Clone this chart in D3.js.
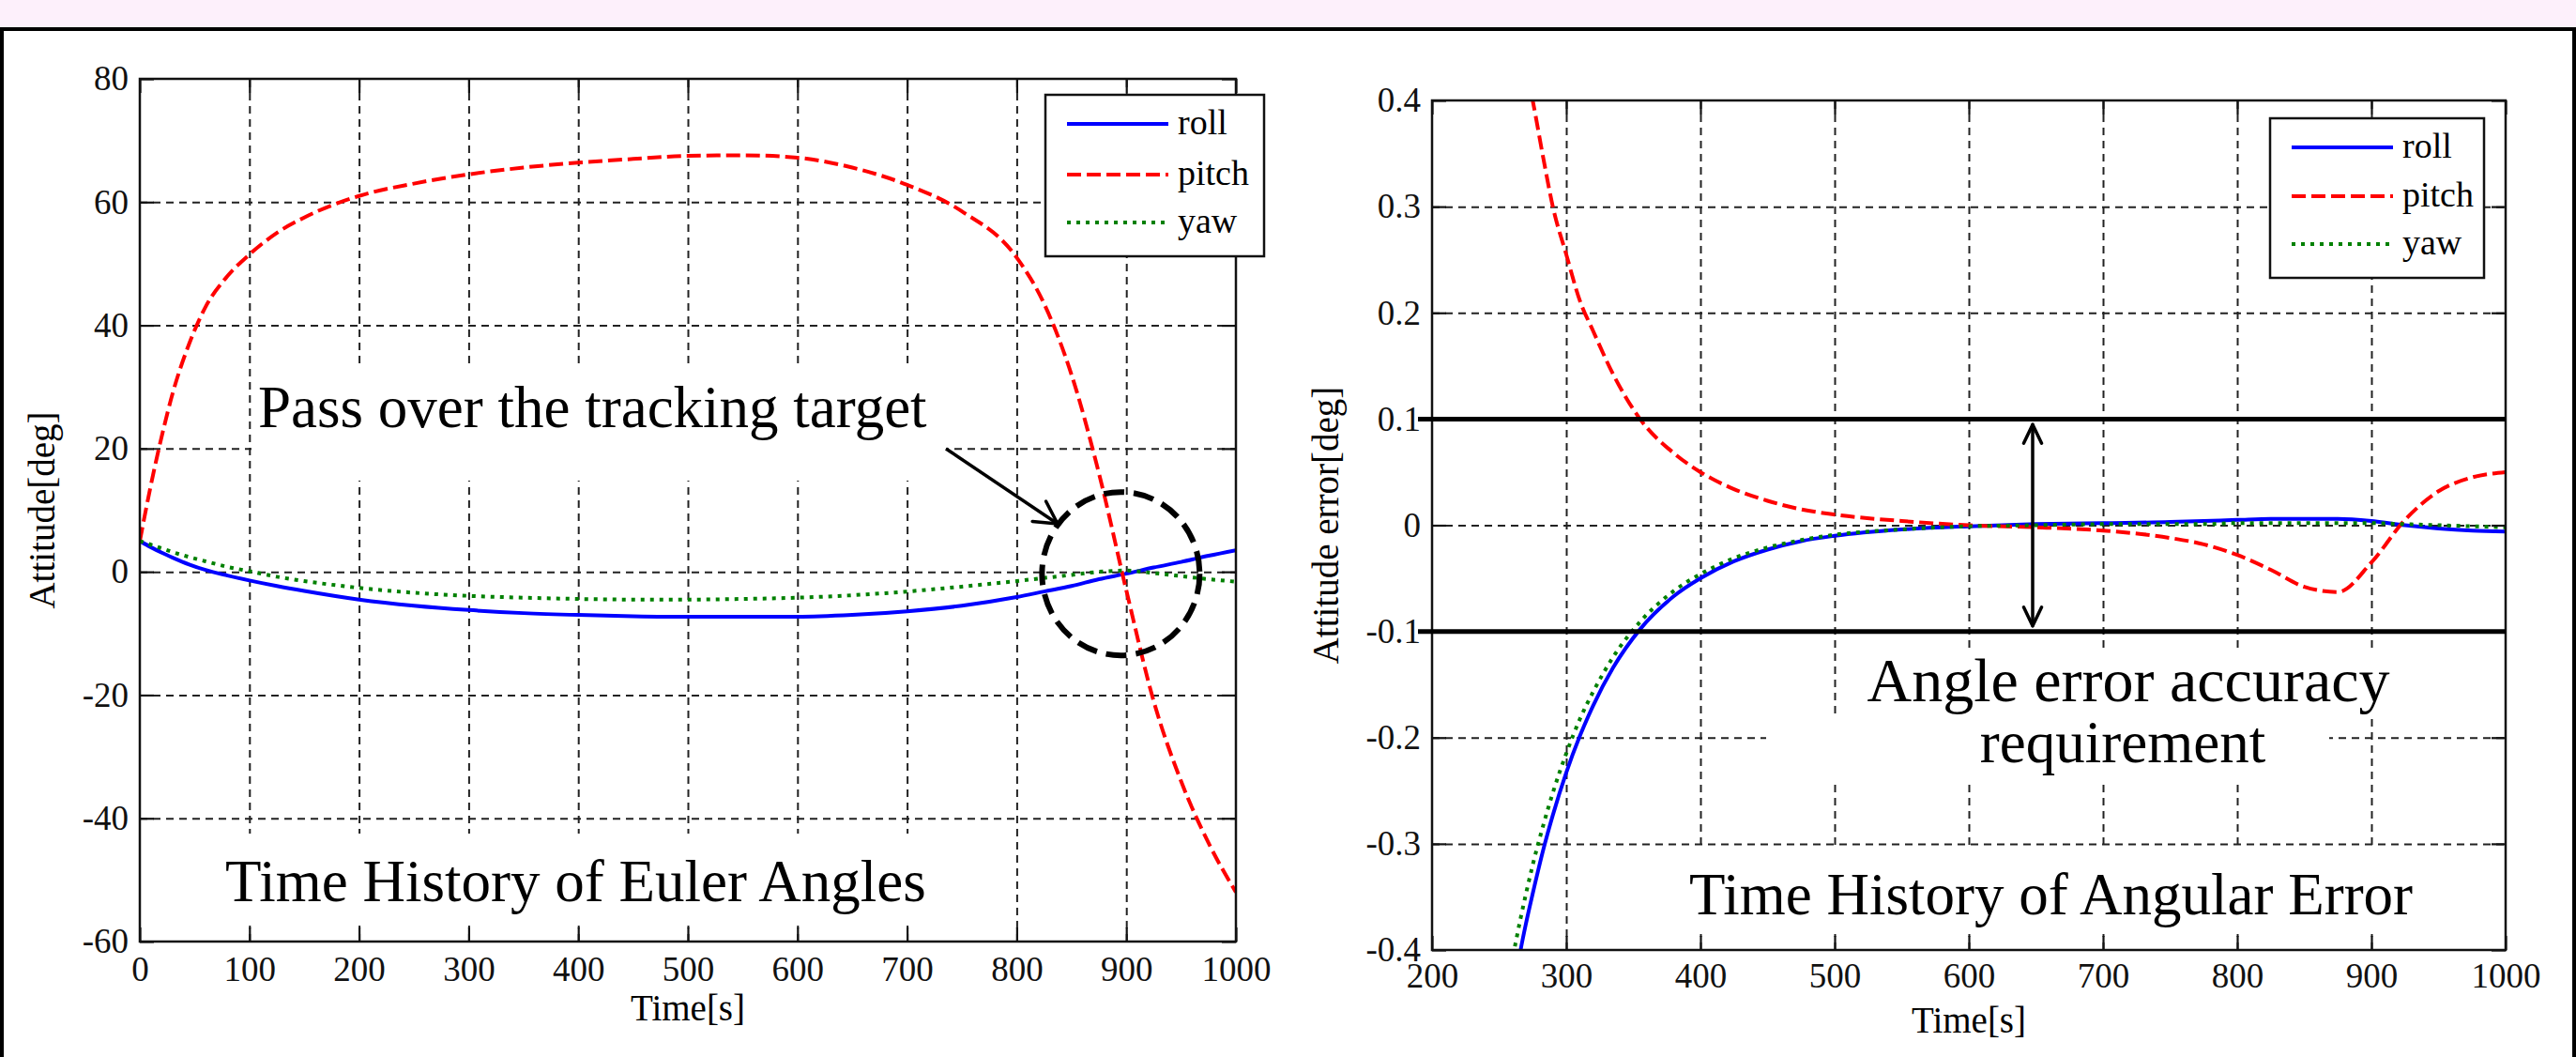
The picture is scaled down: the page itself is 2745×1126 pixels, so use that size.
<!DOCTYPE html>
<html lang="en">
<head>
<meta charset="UTF-8">
<title>Time History of Euler Angles / Angular Error</title>
<script src="https://d3js.org/d3.v7.min.js"></script>
<style>
  body { margin: 0; padding: 0; overflow: hidden; background: #fff; }
  svg { display: block; }
  text { font-family: "Liberation Serif", "Times New Roman", serif; fill: #000; }
  .tick text { font-size: 37px; fill: #111; }
  .axis-label { font-size: 39px; }
  .legend-label { font-size: 38px; }
  .note { font-size: 63px; }
  .grid line { stroke: #222; stroke-width: 2; stroke-dasharray: 8,6; }
  .edge line { stroke: #111; stroke-width: 2.2; }
</style>
</head>
<body>
<svg id="chart" width="2745" height="1126"></svg>
<script>
// ---- data ----
var eulerTime  = [0, 10, 20, 30, 45, 60, 80, 100, 125, 150, 200, 250, 300, 350, 400, 450, 500, 550, 600, 650, 700, 750, 800, 825, 850, 875, 900, 925, 950, 975, 1000];
var eulerRoll  = [5, 4, 3.1, 2.3, 1.2, 0.3, -0.6, -1.4, -2.3, -3.1, -4.5, -5.5, -6.2, -6.7, -7.0, -7.2, -7.3, -7.3, -7.3, -7.0, -6.4, -5.5, -4.1, -3.2, -2.3, -1.2, -0.3, 0.7, 1.6, 2.6, 3.5];
var eulerPitch = [5, 14, 22, 29, 37, 43, 48, 51.5, 55, 57.5, 61, 63, 64.5, 65.6, 66.4, 67, 67.5, 67.6, 67.2, 65.6, 62.8, 58.5, 51, 43.5, 32, 16, -3, -21, -34, -44, -52];
var eulerYaw   = [5, 4.4, 3.8, 3.2, 2.4, 1.7, 0.8, 0.1, -0.8, -1.5, -2.6, -3.4, -3.9, -4.2, -4.4, -4.5, -4.5, -4.4, -4.2, -3.8, -3.2, -2.4, -1.5, -1.0, -0.5, 0.0, 0.2, -0.2, -0.7, -1.2, -1.6];

var errTime  = [255, 262, 266, 270, 275, 283, 290, 300, 310, 320, 335, 355, 380, 400, 425, 450, 475, 500, 550, 600, 650, 700, 750, 775, 800, 825, 850, 875, 900, 925, 950, 975, 1000];
var errRoll  = [-0.47, -0.43, -0.40, -0.375, -0.347, -0.305, -0.273, -0.233, -0.199, -0.170, -0.134, -0.098, -0.067, -0.050, -0.034, -0.023, -0.015, -0.010, -0.004, -0.001, 0.001, 0.002, 0.003, 0.004, 0.005, 0.006, 0.006, 0.006, 0.004, 0.0, -0.003, -0.005, -0.006];
var errPitch = [0.55, 0.49, 0.46, 0.43, 0.40, 0.345, 0.30, 0.255, 0.212, 0.183, 0.142, 0.10, 0.068, 0.050, 0.034, 0.023, 0.015, 0.010, 0.004, 0.0, -0.002, -0.005, -0.012, -0.018, -0.028, -0.042, -0.058, -0.063, -0.035, 0.005, 0.032, 0.045, 0.05];
var errYaw   = [-0.44, -0.395, -0.37, -0.347, -0.32, -0.282, -0.252, -0.215, -0.183, -0.157, -0.124, -0.091, -0.062, -0.046, -0.031, -0.021, -0.014, -0.009, -0.004, -0.001, 0.0, 0.001, 0.001, 0.001, 0.002, 0.002, 0.002, 0.002, 0.002, 0.001, 0.0, -0.001, -0.002];

var eulerXTicks = [0, 100, 200, 300, 400, 500, 600, 700, 800, 900, 1000];
var eulerYTicks = [-60, -40, -20, 0, 20, 40, 60, 80];
var errXTicks   = [200, 300, 400, 500, 600, 700, 800, 900, 1000];
var errYTicks   = [-0.4, -0.3, -0.2, -0.1, 0, 0.1, 0.2, 0.3, 0.4];
var errLimits   = [0.1, -0.1];

var seriesNames  = ['roll', 'pitch', 'yaw'];
var seriesColors = ['#0000ff', '#ff0000', '#008000'];
var seriesDash   = [null, '15,6', '4,6'];

var svg = d3.select('#chart');

// pink strip and frame
svg.append('rect').attr('x', 0).attr('y', 0).attr('width', 2745).attr('height', 30).attr('fill', '#fdf0fb');
svg.append('rect').attr('x', 2).attr('y', 31).attr('width', 2741).attr('height', 1200)
    .attr('fill', '#fff').attr('stroke', '#000').attr('stroke-width', 4);

function fmt(d) { return String(+d.toFixed(1)); }

function drawPanel(p) {
    var x = d3.scaleLinear().domain(p.xDomain).range([p.left, p.right]);
    var y = d3.scaleLinear().domain(p.yDomain).range([p.bottom, p.top]);
    var w = p.right - p.left, h = p.bottom - p.top;
    var g = svg.append('g');

    svg.append('clipPath').attr('id', p.id + '-clip')
        .append('rect').attr('x', p.left).attr('y', p.top).attr('width', w).attr('height', h);

    // dashed grid
    g.append('g').attr('class', 'grid').attr('transform', 'translate(0,' + p.bottom + ')')
        .call(d3.axisBottom(x).tickValues(p.xTicks.slice(1, -1)).tickSize(-h).tickFormat(''))
        .call(function(s) { s.select('.domain').remove(); });
    g.append('g').attr('class', 'grid').attr('transform', 'translate(' + p.left + ',0)')
        .call(d3.axisLeft(y).tickValues(p.yTicks.slice(1, -1)).tickSize(-w).tickFormat(''))
        .call(function(s) { s.select('.domain').remove(); });

    // white boxes behind the notes
    g.append('g').selectAll('rect').data(p.masks).join('rect')
        .attr('x', function(d) { return d[0]; }).attr('y', function(d) { return d[1]; })
        .attr('width', function(d) { return d[2]; }).attr('height', function(d) { return d[3]; })
        .attr('fill', '#fff');

    // data lines
    var line = d3.line()
        .x(function(d) { return x(d[0]); })
        .y(function(d) { return y(d[1]); })
        .curve(d3.curveMonotoneX);
    g.append('g').attr('clip-path', 'url(#' + p.id + '-clip)')
        .selectAll('path').data(p.series).join('path')
        .attr('d', function(s) { return line(p.time.map(function(t, i) { return [t, s[i]]; })); })
        .attr('fill', 'none')
        .attr('stroke', function(s, i) { return seriesColors[i]; })
        .attr('stroke-width', 4)
        .attr('stroke-dasharray', function(s, i) { return seriesDash[i]; });

    // inward ticks on all sides + labels
    var bottom = g.append('g').attr('class', 'edge').attr('transform', 'translate(0,' + p.bottom + ')')
        .call(d3.axisBottom(x).tickValues(p.xTicks).tickSizeInner(-15).tickSizeOuter(0)
            .tickPadding(p.xPad).tickFormat(fmt));
    var left = g.append('g').attr('class', 'edge').attr('transform', 'translate(' + p.left + ',0)')
        .call(d3.axisLeft(y).tickValues(p.yTicks).tickSizeInner(-15).tickSizeOuter(0)
            .tickPadding(12).tickFormat(fmt));
    g.append('g').attr('class', 'edge').attr('transform', 'translate(0,' + p.top + ')')
        .call(d3.axisTop(x).tickValues(p.xTicks).tickSizeInner(-15).tickSizeOuter(0).tickFormat(''));
    g.append('g').attr('class', 'edge').attr('transform', 'translate(' + p.right + ',0)')
        .call(d3.axisRight(y).tickValues(p.yTicks).tickSizeInner(-15).tickSizeOuter(0).tickFormat(''));
    g.selectAll('.edge .domain').remove();
    [bottom, left].forEach(function(a) { a.attr('font-family', null).attr('font-size', null); });

    g.append('rect').attr('x', p.left).attr('y', p.top).attr('width', w).attr('height', h)
        .attr('fill', 'none').attr('stroke', '#111').attr('stroke-width', 2.5);

    // axis titles
    g.append('text').attr('class', 'axis-label').attr('text-anchor', 'middle')
        .attr('x', (p.left + p.right) / 2).attr('y', p.xLabelY).text('Time[s]');
    g.append('text').attr('class', 'axis-label').attr('text-anchor', 'middle')
        .attr('transform', 'translate(' + p.yLabelX + ',' + (p.top + p.bottom) / 2 + ') rotate(-90)')
        .text(p.yLabel);

    // legend
    var L = p.legend;
    var lg = g.append('g');
    lg.append('rect').attr('x', L.x).attr('y', L.y).attr('width', L.w).attr('height', L.h)
        .attr('fill', '#fff').attr('stroke', '#111').attr('stroke-width', 2.5);
    var items = lg.selectAll('g').data(seriesNames).join('g')
        .attr('transform', function(d, i) { return 'translate(0,' + L.rows[i] + ')'; });
    items.append('line').attr('x1', L.x + 23).attr('x2', L.x + 131)
        .attr('stroke', function(d, i) { return seriesColors[i]; })
        .attr('stroke-width', 4)
        .attr('stroke-dasharray', function(d, i) { return seriesDash[i]; });
    items.append('text').attr('class', 'legend-label').attr('x', L.x + 141).attr('dy', '0.3em')
        .text(function(d) { return d; });

    return { x: x, y: y, g: g };
}

function arrowHead(g, tipX, tipY, fromX, fromY, len, spread, width) {
    var a = Math.atan2(fromY - tipY, fromX - tipX);
    [-spread, spread].forEach(function(s) {
        g.append('line').attr('x1', tipX).attr('y1', tipY)
            .attr('x2', tipX + len * Math.cos(a + s)).attr('y2', tipY + len * Math.sin(a + s))
            .attr('stroke', '#000').attr('stroke-width', width).attr('stroke-linecap', 'round');
    });
}

// ---- left panel: Euler angles ----
var euler = drawPanel({
    id: 'euler', left: 149, right: 1317, top: 84, bottom: 1003,
    xDomain: [0, 1000], yDomain: [-60, 80],
    xTicks: eulerXTicks, yTicks: eulerYTicks, xPad: 16,
    time: eulerTime, series: [eulerRoll, eulerPitch, eulerYaw],
    xLabelY: 1087, yLabelX: 58, yLabel: 'Attitude[deg]',
    legend: { x: 1114, y: 101, w: 233, h: 172, rows: [132, 186, 237] },
    masks: [[268, 392, 740, 120], [230, 888, 780, 98]]
});

euler.g.append('text').attr('class', 'note').attr('x', 275).attr('y', 455).text('Pass over the tracking target');
euler.g.append('text').attr('class', 'note').attr('x', 240).attr('y', 960).text('Time History of Euler Angles');

// arrow to the crossing point and dashed ring around it
euler.g.append('line').attr('x1', 1008).attr('y1', 478).attr('x2', 1127).attr('y2', 558)
    .attr('stroke', '#000').attr('stroke-width', 3.5);
arrowHead(euler.g, 1127, 558, 1008, 478, 27, 0.5, 3.5);
euler.g.append('ellipse').attr('cx', euler.x(895)).attr('cy', euler.y(0) + 2).attr('rx', 84).attr('ry', 87)
    .attr('fill', 'none').attr('stroke', '#000').attr('stroke-width', 6).attr('stroke-dasharray', '22,10');

// ---- right panel: angular error ----
var err = drawPanel({
    id: 'err', left: 1526, right: 2670, top: 107, bottom: 1012,
    xDomain: [200, 1000], yDomain: [-0.4, 0.4],
    xTicks: errXTicks, yTicks: errYTicks, xPad: 14,
    time: errTime, series: [errRoll, errPitch, errYaw],
    xLabelY: 1100, yLabelX: 1426, yLabel: 'Attitude error[deg]',
    legend: { x: 2419, y: 126, w: 228, h: 170, rows: [157, 209, 260] },
    masks: [[1962, 690, 620, 72], [1882, 762, 600, 74], [1793, 902, 800, 93]]
});

// accuracy band limits
err.g.selectAll('.limit').data(errLimits).join('line').attr('class', 'limit')
    .attr('x1', 1511).attr('x2', err.x(1000))
    .attr('y1', function(d) { return err.y(d); }).attr('y2', function(d) { return err.y(d); })
    .attr('stroke', '#000').attr('stroke-width', 5);

var ax = 2166;
err.g.append('line').attr('x1', ax).attr('x2', ax).attr('y1', err.y(0.1) + 6).attr('y2', err.y(-0.1) - 6)
    .attr('stroke', '#000').attr('stroke-width', 3.5);
arrowHead(err.g, ax, err.y(0.1) + 6, ax, err.y(-0.1), 22, 0.45, 3.5);
arrowHead(err.g, ax, err.y(-0.1) - 6, ax, err.y(0.1), 22, 0.45, 3.5);

err.g.append('text').attr('class', 'note').attr('text-anchor', 'middle').attr('x', 2268).attr('y', 747)
    .style('font-size', '66px').text('Angle error accuracy');
err.g.append('text').attr('class', 'note').attr('text-anchor', 'middle').attr('x', 2262).attr('y', 812).text('requirement');
err.g.append('text').attr('class', 'note').attr('x', 1800).attr('y', 974).text('Time History of Angular Error');
</script>
</body>
</html>
